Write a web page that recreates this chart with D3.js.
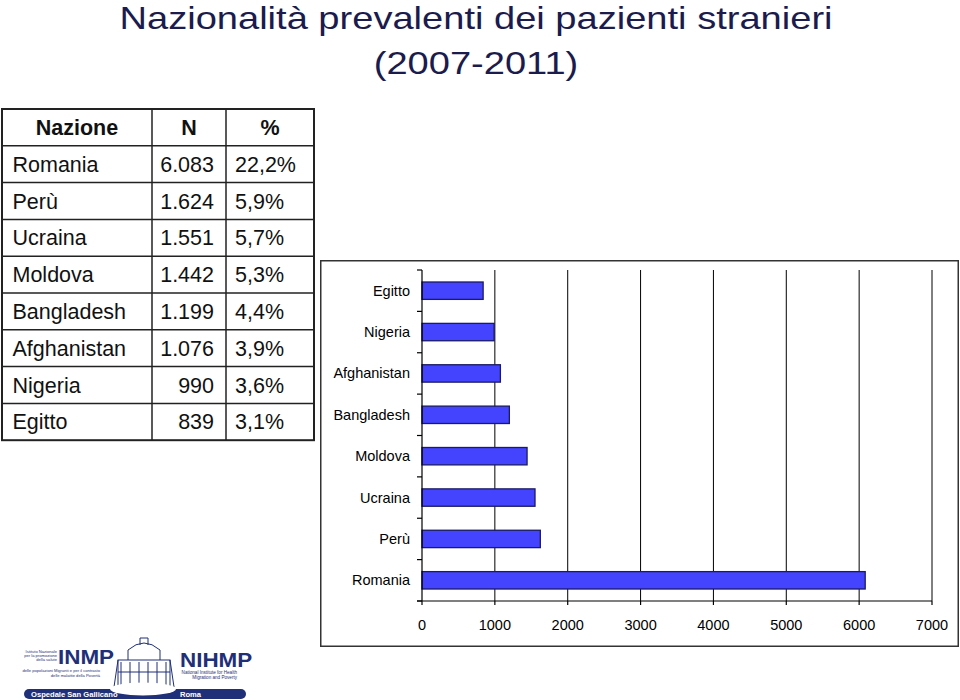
<!DOCTYPE html>
<html>
<head>
<meta charset="utf-8">
<script src="https://cdn.jsdelivr.net/npm/d3@7"></script>
<style>
  html, body { margin: 0; padding: 0; background: #fff; }
  svg { display: block; font-family: "Liberation Sans", Arial, sans-serif; }
</style>
</head>
<body>
<svg id="chart" width="960" height="700"></svg>
<script>
// ---- Data ----
const categories = ["Romania", "Perù", "Ucraina", "Moldova", "Bangladesh", "Afghanistan", "Nigeria", "Egitto"];
const counts = [6083, 1624, 1551, 1442, 1199, 1076, 990, 839];
const percents = [22.2, 5.9, 5.7, 5.3, 4.4, 3.9, 3.6, 3.1];
const tableHeaders = ["Nazione", "N", "%"];
const xTicks = [0, 1000, 2000, 3000, 4000, 5000, 6000, 7000];
const titleLines = ["Nazionalità prevalenti dei pazienti stranieri", "(2007-2011)"];

const svg = d3.select("#chart");
const it = d3.formatLocale({ decimal: ",", thousands: ".", grouping: [3], currency: ["€", ""] });
const fmtN = it.format(",d");
const fmtP = v => it.format(".1f")(v) + "%";

// ---- Title ----
const titleColor = "#1b1b4d";
[28.5, 73.5].forEach((y, i) => {
  svg.append("text")
    .attr("transform", `translate(476,${y}) scale(1.19,1)`)
    .attr("text-anchor", "middle")
    .attr("font-size", 32)
    .attr("fill", titleColor)
    .text(titleLines[i]);
});

// ---- Table ----
const tX = [2, 152, 226, 314];
const tTop = 109, rowH = 36.8, nRows = categories.length + 1;
const table = svg.append("g");
table.append("rect")
  .attr("x", tX[0]).attr("y", tTop)
  .attr("width", tX[3] - tX[0]).attr("height", rowH * nRows)
  .attr("fill", "none").attr("stroke", "#222").attr("stroke-width", 2);
for (let r = 1; r < nRows; r++) {
  table.append("line")
    .attr("x1", tX[0]).attr("x2", tX[3])
    .attr("y1", tTop + r * rowH).attr("y2", tTop + r * rowH)
    .attr("stroke", "#222").attr("stroke-width", 1.5);
}
[1, 2].forEach(c => {
  table.append("line")
    .attr("x1", tX[c]).attr("x2", tX[c])
    .attr("y1", tTop).attr("y2", tTop + rowH * nRows)
    .attr("stroke", "#222").attr("stroke-width", 1.5);
});
tableHeaders.forEach((h, c) => {
  table.append("text")
    .attr("x", (tX[c] + tX[c + 1]) / 2)
    .attr("y", tTop + rowH / 2 + 7.5)
    .attr("text-anchor", "middle")
    .attr("font-size", 21.5).attr("font-weight", "bold").attr("fill", "#111")
    .text(h);
});
categories.forEach((cat, i) => {
  const yb = tTop + (i + 1) * rowH + rowH / 2 + 7.5;
  table.append("text").attr("x", 12.5).attr("y", yb)
    .attr("font-size", 21.5).attr("fill", "#111").text(cat);
  table.append("text").attr("x", 214).attr("y", yb).attr("text-anchor", "end")
    .attr("font-size", 21.5).attr("fill", "#111").text(fmtN(counts[i]));
  table.append("text").attr("x", 235).attr("y", yb)
    .attr("font-size", 21.5).attr("fill", "#111").text(fmtP(percents[i]));
});

// ---- Bar chart ----
svg.append("rect")
  .attr("x", 320.75).attr("y", 260.75).attr("width", 637.5).attr("height", 385.5)
  .attr("fill", "none").attr("stroke", "#333").attr("stroke-width", 1.5);

const x = d3.scaleLinear().domain([0, 7000]).range([422, 932]);
const order = categories.slice().reverse(); // Egitto at top
const y = d3.scaleBand().domain(order).range([270, 601])
  .paddingInner(0.58).paddingOuter(0.29);
const step = y.step();

const g = svg.append("g");
// gridlines
g.selectAll(".grid").data(xTicks.slice(1)).join("line")
  .attr("x1", d => x(d)).attr("x2", d => x(d))
  .attr("y1", 270).attr("y2", 601)
  .attr("stroke", "#000").attr("stroke-width", 1);

// bars
g.selectAll(".bar").data(categories).join("rect")
  .attr("x", x(0))
  .attr("y", d => y(d))
  .attr("width", (d, i) => x(counts[i]) - x(0))
  .attr("height", y.bandwidth())
  .attr("fill", "#4444ff").attr("stroke", "#1a1a66").attr("stroke-width", 1.3);

// y axis line and boundary ticks
g.append("line").attr("x1", x(0)).attr("x2", x(0)).attr("y1", 270).attr("y2", 601)
  .attr("stroke", "#000").attr("stroke-width", 1.2);
d3.range(order.length + 1).forEach(k => {
  const yy = 270 + k * step;
  g.append("line").attr("x1", x(0) - 5).attr("x2", x(0)).attr("y1", yy).attr("y2", yy)
    .attr("stroke", "#000").attr("stroke-width", 1.2);
});
// category labels
g.selectAll(".cat").data(order).join("text")
  .attr("x", 410)
  .attr("y", d => y(d) + y.bandwidth() / 2 + 5)
  .attr("text-anchor", "end")
  .attr("font-size", 14.5).attr("fill", "#000")
  .text(d => d);

// x axis
g.append("line").attr("x1", x(0) - 5).attr("x2", x(7000)).attr("y1", 601).attr("y2", 601)
  .attr("stroke", "#000").attr("stroke-width", 1.2);
g.selectAll(".xt").data(xTicks).join("line")
  .attr("x1", d => x(d)).attr("x2", d => x(d)).attr("y1", 601).attr("y2", 605)
  .attr("stroke", "#000").attr("stroke-width", 1.2);
g.selectAll(".xl").data(xTicks).join("text")
  .attr("x", d => x(d)).attr("y", 629.5)
  .attr("text-anchor", "middle").attr("font-size", 14.5).attr("fill", "#000")
  .text(d => d);

// ---- Logo (approximation) ----
const navy = "#1f2f78";
const logo = svg.append("g");
const small = [
  ["Istituto Nazionale", 57, 652.5, "end"],
  ["per la promozione", 57, 656.8, "end"],
  ["della salute", 57, 661.1, "end"],
  ["delle popolazioni Migranti e per il contrasto", 100, 672, "end"],
  ["delle malattie della Povertà", 100, 676.5, "end"]
];
small.forEach(s => logo.append("text").attr("x", s[1]).attr("y", s[2])
  .attr("text-anchor", s[3]).attr("font-size", 4.1).attr("fill", navy).text(s[0]));
logo.append("text").attr("x", 58).attr("y", 664)
  .attr("font-size", 19.5).attr("font-weight", "bold").attr("fill", navy)
  .attr("font-family", "'Liberation Sans Narrow', 'Liberation Sans', sans-serif")
  .attr("transform", "translate(58,664) scale(1.15,1) translate(-58,-664)")
  .text("INMP");
logo.append("text").attr("x", 180).attr("y", 667)
  .attr("font-size", 19.5).attr("font-weight", "bold").attr("fill", navy)
  .attr("font-family", "'Liberation Sans Narrow', 'Liberation Sans', sans-serif")
  .attr("transform", "translate(180,667) scale(1.15,1) translate(-180,-667)")
  .text("NIHMP");
[["National Institute for Health", 237, 674], ["Migration and Poverty", 237, 679]].forEach(s =>
  logo.append("text").attr("x", s[1]).attr("y", s[2]).attr("text-anchor", "end")
    .attr("font-size", 4.6).attr("fill", navy).text(s[0]));

// building
const b = logo.append("g").attr("fill", "none").attr("stroke", navy).attr("stroke-width", 1);
b.append("rect").attr("x", 118).attr("y", 660).attr("width", 52).attr("height", 27);
b.append("path").attr("d", "M128,660 L128,650 Q144,636 160,650 L160,660");
b.append("path").attr("d", "M140,645 L140,638 L148,638 L148,645");
d3.range(6).forEach(k => b.append("line")
  .attr("x1", 121 + k * 9).attr("x2", 121 + k * 9).attr("y1", 662).attr("y2", 686));
b.append("line").attr("x1", 118).attr("x2", 170).attr("y1", 672).attr("y2", 672);
b.append("path").attr("d", "M114,687 L118,660 M174,687 L170,660");

// banner
logo.append("rect").attr("x", 24).attr("y", 689).attr("width", 222).attr("height", 10)
  .attr("rx", 5).attr("fill", navy);
logo.append("ellipse").attr("cx", 143).attr("cy", 689).attr("rx", 33).attr("ry", 6.5)
  .attr("fill", "#fff");
logo.append("text").attr("x", 31).attr("y", 697.3).attr("font-size", 7.6)
  .attr("font-weight", "bold").attr("fill", "#fff").text("Ospedale San Gallicano");
logo.append("text").attr("x", 180).attr("y", 697.3).attr("font-size", 7.6)
  .attr("font-weight", "bold").attr("fill", "#fff").text("Roma");
</script>
</body>
</html>
